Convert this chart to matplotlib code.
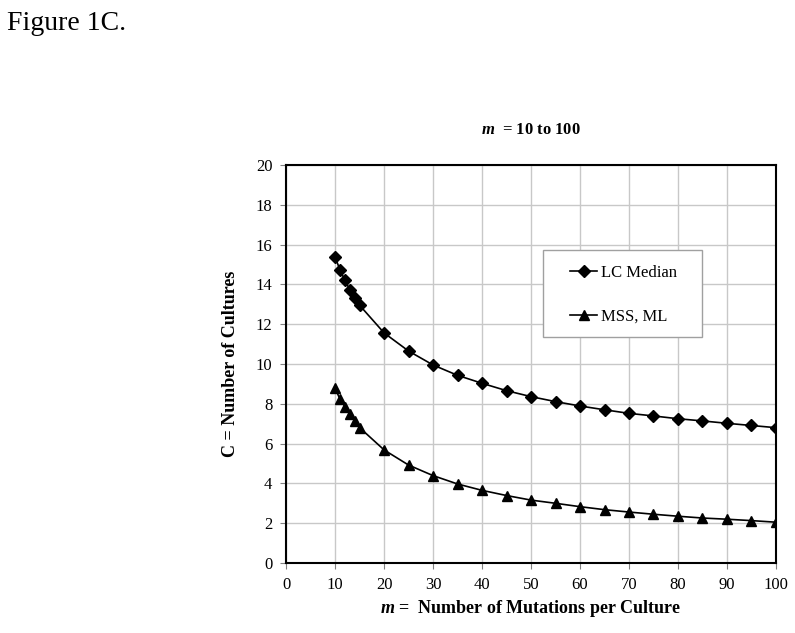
import matplotlib
matplotlib.use("Agg")
import matplotlib.pyplot as plt
from matplotlib.patches import Rectangle

# values
m_values = [10, 11, 12, 13, 14, 15, 20, 25, 30, 35, 40, 45, 50,
            55, 60, 65, 70, 75, 80, 85, 90, 95, 100]
lc_median = [15.36, 14.72, 14.2, 13.73, 13.3, 12.95, 11.56, 10.65, 9.95, 9.43,
             9.03, 8.66, 8.36, 8.11, 7.89, 7.70, 7.52, 7.39, 7.25, 7.14,
             7.02, 6.91, 6.80]
mss_ml = [8.78, 8.22, 7.86, 7.5, 7.12, 6.8, 5.68, 4.92, 4.39, 3.97,
          3.65, 3.39, 3.16, 3.0, 2.83, 2.68, 2.56, 2.45, 2.35, 2.26,
          2.2, 2.13, 2.05]
x_ticks = list(range(0, 101, 10))
y_ticks = list(range(0, 21, 2))

plt.rcParams['font.family'] = ['Liberation Serif', 'DejaVu Serif']
plt.rcParams['mathtext.fontset'] = 'custom'
plt.rcParams['mathtext.it'] = 'Liberation Serif:italic:bold'
plt.rcParams['mathtext.rm'] = 'Liberation Serif:bold'

fig = plt.figure(figsize=(7.95, 6.33), dpi=100)
ax = fig.add_axes([0.360, 0.1106, 0.616, 0.6287])

ax.plot(m_values, lc_median, color='black', lw=1.2, marker='D', ms=6,
        label='LC Median')
ax.plot(m_values, mss_ml, color='black', lw=1.2, marker='^', ms=7,
        label='MSS, ML')

ax.set_xlim(0, 100)
ax.set_ylim(0, 20)
ax.set_xticks(x_ticks)
ax.set_yticks(y_ticks)
ax.grid(True, color='#c8c8c8', lw=1)
ax.set_axisbelow(True)
ax.tick_params(direction='out', length=4, width=0.8, color='#808080',
               labelsize=12, pad=6)
for s in ax.spines.values():
    s.set_linewidth(1.5)
    s.set_color('black')

ax.set_xlabel(r'$m$ =  Number of Mutations per Culture', fontsize=13,
              fontweight='bold', labelpad=4)
ax.set_ylabel('C = Number of Cultures', fontsize=13, fontweight='bold',
              labelpad=12)
ax.set_title(r'$m$  = 10 to 100', fontsize=12, fontweight='bold', pad=22)

# legend box drawn separately (Excel-style wide padding)
ax.add_patch(Rectangle((0.5245, 0.568), 0.3245, 0.218, transform=ax.transAxes,
                       facecolor='white', edgecolor='#a0a0a0', lw=1, zorder=4))
leg = ax.legend(loc='center left', bbox_to_anchor=(0.58, 0.674), fontsize=12,
                frameon=False, labelspacing=1.65, borderpad=0,
                handlelength=1.6, handletextpad=0.25, borderaxespad=0)
leg.set_zorder(5)

fig.text(0.009, 0.952, 'Figure 1C.', fontsize=20, va='baseline')

fig.savefig('out.png', dpi=100)
